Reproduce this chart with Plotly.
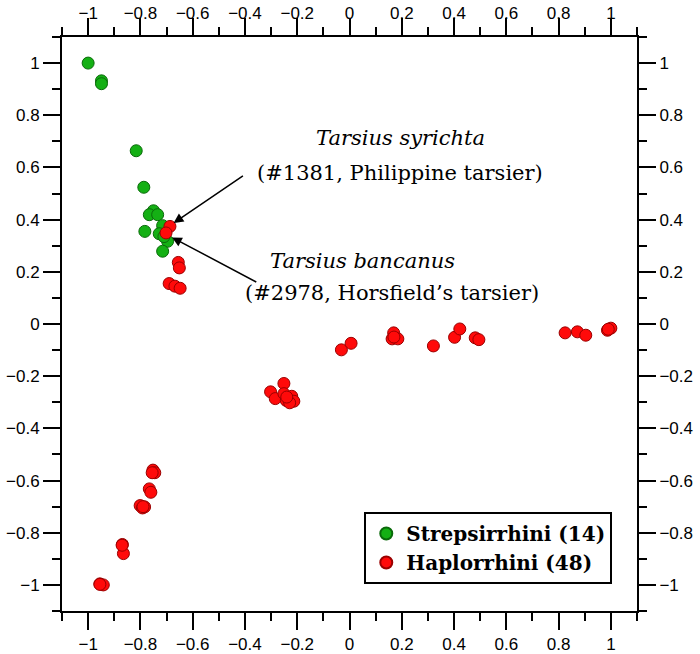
import plotly.graph_objects as go

# Strepsirrhini (14) coordinates
strep_x = [-1.000, -0.949, -0.949, -0.816, -0.787, -0.750, -0.766, -0.734,
           -0.783, -0.715, -0.728, -0.696, -0.715, -0.710]
strep_y = [1.000, 0.932, 0.921, 0.664, 0.524, 0.434, 0.419, 0.419,
           0.355, 0.377, 0.346, 0.317, 0.279, 0.335]

# Haplorrhini (48) coordinates
haplo_x = [-0.687, -0.702, -0.655, -0.651, -0.690, -0.668, -0.648,
           -0.251, -0.302, -0.284, -0.251, -0.221, -0.242, -0.213, -0.229, -0.240,
           -0.031, 0.006, 0.169, 0.163, 0.185, 0.321, 0.402, 0.422, 0.481, 0.495,
           0.825, 0.872, 0.904, 0.987, 1.000,
           -0.766, -0.760, -0.801, -0.792, -0.784, -0.869, -0.865, -0.955, -0.942,
           -0.752, -0.745,
           -0.955, -0.870, -0.790, -0.755, 0.170, 0.990]
haplo_y = [0.374, 0.349, 0.236, 0.215, 0.155, 0.145, 0.137,
           -0.228, -0.260, -0.286, -0.267, -0.277, -0.293, -0.296, -0.302, -0.280,
           -0.099, -0.074, -0.034, -0.057, -0.057, -0.084, -0.051, -0.019, -0.053, -0.060,
           -0.034, -0.030, -0.043, -0.024, -0.016,
           -0.632, -0.645, -0.696, -0.705, -0.701, -0.845, -0.880, -0.996, -1.000,
           -0.560, -0.570,
           -0.998, -0.848, -0.700, -0.570, -0.050, -0.020]

tick_vals = [-1, -0.8, -0.6, -0.4, -0.2, 0, 0.2, 0.4, 0.6, 0.8, 1]
tick_text = ["\u22121", "\u22120.8", "\u22120.6", "\u22120.4", "\u22120.2", "0",
             "0.2", "0.4", "0.6", "0.8", "1"]

fig = go.Figure()
fig.add_trace(go.Scatter(
    x=strep_x, y=strep_y, mode="markers", name="<b>Strepsirrhini (14)</b>",
    marker=dict(size=12, color="#14b014", line=dict(color="#0a6a0a", width=1)),
))
fig.add_trace(go.Scatter(
    x=haplo_x, y=haplo_y, mode="markers", name="<b>Haplorrhini (48)</b>",
    marker=dict(size=12, color="#ff0a0a", line=dict(color="#9a0000", width=1)),
))
# invisible trace to activate mirrored top/right axes
fig.add_trace(go.Scatter(x=[0], y=[0], xaxis="x2", yaxis="y2", mode="markers",
                         marker=dict(opacity=0), showlegend=False, hoverinfo="skip"))

axis_common = dict(
    range=[-1.1, 1.1], tickvals=tick_vals, ticktext=tick_text,
    ticks="outside", ticklen=17, tickwidth=2, tickcolor="black",
    minor=dict(ticks="outside", ticklen=8, tickwidth=2, tickcolor="black", dtick=0.1, tick0=0),
    showgrid=False, zeroline=False, showline=True, linewidth=2, linecolor="black",
    tickfont=dict(family="Liberation Sans, Arial", size=17, color="black"),
    automargin=False,
)

fig.update_layout(
    width=700, height=654,
    margin=dict(l=62, r=63, t=37, b=43, autoexpand=False),
    plot_bgcolor="white", paper_bgcolor="white",
    xaxis=dict(**axis_common, mirror=True),
    yaxis=dict(**axis_common, mirror=True),
    xaxis2=dict(**axis_common, overlaying="x", side="top", anchor="y", ticklabelstandoff=-8),
    yaxis2=dict(**axis_common, overlaying="y", side="right", anchor="x"),
    legend=dict(
        x=0.957, y=0.047, xanchor="right", yanchor="bottom",
        bgcolor="white", bordercolor="black", borderwidth=2,
        font=dict(family="DejaVu Serif", size=20, color="black"),
        itemsizing="constant", tracegroupgap=0,
    ),
    showlegend=True,
)

serif = dict(family="DejaVu Serif", size=21, color="black")
fig.add_annotation(x=0.195, y=0.714, text="<i>Tarsius syrichta</i>", showarrow=False, font=serif)
fig.add_annotation(x=0.192, y=0.580, text="(#1381, Philippine tarsier)", showarrow=False, font=serif)
fig.add_annotation(x=0.050, y=0.243, text="<i>Tarsius bancanus</i>", showarrow=False, font=serif)
fig.add_annotation(x=0.162, y=0.120, text="(#2978, Horsfield\u2019s tarsier)", showarrow=False, font=serif)

fig.add_annotation(x=-0.673, y=0.387, ax=-0.402, ay=0.572, axref="x", ayref="y",
                   text="", showarrow=True, arrowhead=2, arrowsize=1.3, arrowwidth=1.5,
                   arrowcolor="black", standoff=0)
fig.add_annotation(x=-0.679, y=0.332, ax=-0.351, ay=0.158, axref="x", ayref="y",
                   text="", showarrow=True, arrowhead=2, arrowsize=1.3, arrowwidth=1.5,
                   arrowcolor="black", standoff=0)

# remove the default 8px page margin so the 700x654 figure fills the window exactly
fig.write_html("out.html", config={"displayModeBar": False},
               post_script="document.body.style.margin='0px';")
